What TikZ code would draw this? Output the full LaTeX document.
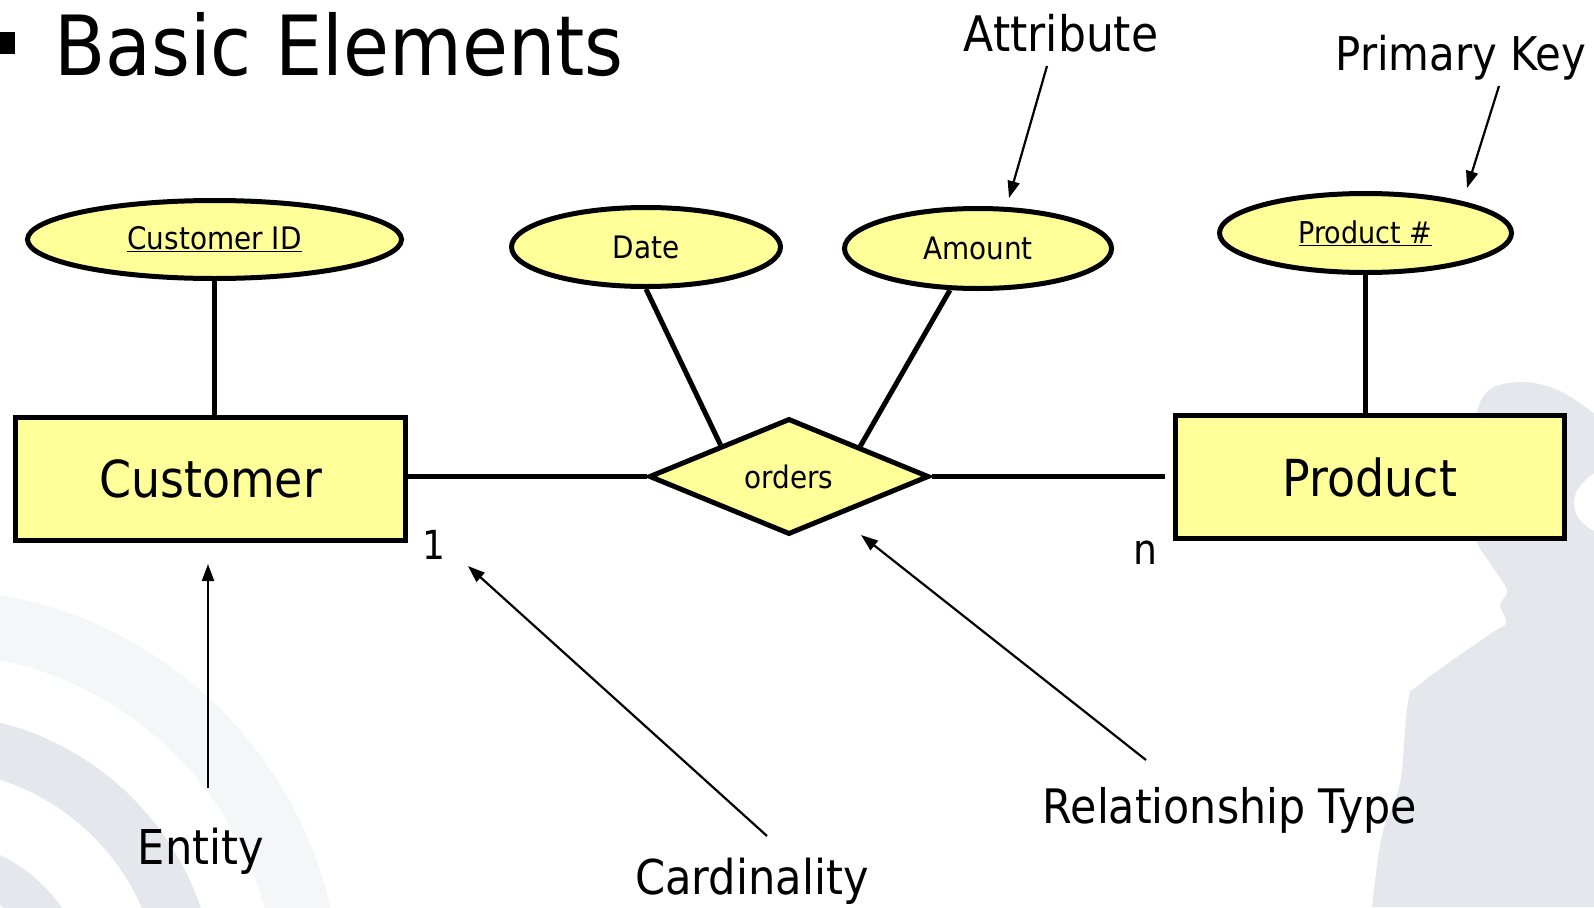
\documentclass[tikz,border=0pt]{standalone}
\usepackage{fontspec}
\setmainfont{DejaVu Sans}[FakeStretch=0.9]
\usetikzlibrary{shapes.geometric,arrows.meta,calc}
\definecolor{erfill}{RGB}{255,255,153}
\definecolor{bgA}{RGB}{228,232,236}
\definecolor{bgB}{RGB}{244,246,248}
\newcommand\fsz[1]{\fontsize{#1bp}{#1bp}\selectfont}
\begin{document}
\begin{tikzpicture}[x=1bp,y=-1bp,
  entitybox/.style={draw,line width=5bp,fill=erfill,rectangle,inner sep=0pt},
  attrell/.style={draw,line width=5bp,fill=erfill,ellipse,inner sep=0pt},
  relbox/.style={draw,line width=5bp,fill=erfill,diamond,inner sep=0pt,aspect=2.4},
  conn/.style={line width=5bp},
  note/.style={inner sep=0pt},
  pointer/.style={line width=2.2bp,-{Triangle[length=17bp,width=12bp]}},
]
\useasboundingbox (0,0) rectangle (1594,907);
% background decoration
\begin{scope}
\clip (0,0) rectangle (1594,907);
\fill[bgB,even odd rule] (-70,1000) circle[radius=411bp] (-70,1000) circle[radius=347bp];
\fill[bgA,even odd rule] (-70,1000) circle[radius=286bp] (-70,1000) circle[radius=231bp];
\fill[bgA,even odd rule] (-70,1000) circle[radius=161bp] (-70,1000) circle[radius=118bp];
\fill[bgA] plot[smooth,tension=0.6] coordinates {(1600,418) (1560,391) (1520,382) (1485,394) (1473,440) (1474,530) (1490,563) (1507,590) (1500,605) (1506,623) (1490,634) (1420,684) (1408,702) (1400,783) (1382,835) (1372,907)} -- (1600,907) -- cycle;
\fill[white] plot[smooth cycle,tension=0.7] coordinates {(1600,476) (1582,484) (1574,503) (1582,522) (1600,527)};
\end{scope}
% title
\node[fill,minimum size=22bp,inner sep=0pt] (bullet) at (4,43) {};
\node[note,anchor=base west,font=\fsz{83}] (title) at (54,75) {Basic Elements};
% ER diagram
\node[entitybox,minimum width=390bp,minimum height=123bp,font=\fsz{51}] (cust) at (210.5,479) {Customer};
\node[entitybox,minimum width=389bp,minimum height=123bp,font=\fsz{51}] (prod) at (1370,477) {Product};
\node[attrell,minimum width=374bp,minimum height=78bp,font=\fsz{31}] (cid) at (214.5,239.5) {\underline{Customer ID}};
\node[attrell,minimum width=269bp,minimum height=79bp,font=\fsz{31}] (date) at (646,247) {Date};
\node[attrell,minimum width=267bp,minimum height=80bp,font=\fsz{31}] (amount) at (978,248.5) {Amount};
\node[attrell,minimum width=292bp,minimum height=79bp,font=\fsz{30}] (pk) at (1365.5,233) {\underline{Product \#}};
\node[relbox,minimum width=280bp,minimum height=116bp,font=\fsz{31}] (rel) at (789,476.5) {orders};
\draw[conn] (cid.south) -- (cid.south |- cust.north);
\draw[conn] (pk.south) -- (pk.south |- prod.north);
\draw[conn] (cust.east |- rel.west) -- (rel.west);
\draw[conn,shorten >=8bp] (rel.east) -- (rel.east -| prod.west);
\draw[conn] (date.south) -- ($(rel.west)!0.52!(rel.north)$);
\draw[conn] (amount.236) -- ($(rel.north)!0.5!(rel.east)$);
\node[note,anchor=base,font=\fsz{40}] (one) at (434,559) {1};
\node[note,anchor=base,font=\fsz{42}] (many) at (1145,564) {n};
% annotations
\node[note,anchor=base,font=\fsz{49}] (lblattr) at (1061,51) {Attribute};
\node[note,anchor=base,font=\fsz{46.5}] (lblpk) at (1461,70) {Primary Key};
\node[note,anchor=base,font=\fsz{48}] (lblent) at (201,864) {Entity};
\node[note,anchor=base,font=\fsz{48}] (lblcard) at (752,894) {Cardinality};
\node[note,anchor=base,font=\fsz{47.5}] (lblrel) at (1230,823) {Relationship Type};
\coordinate (attrS) at (1047,66);  \coordinate (attrT) at (1009,198);
\coordinate (pkS) at (1499,86);    \coordinate (pkT) at (1467,188);
\coordinate (entS) at (208,788);   \coordinate (entT) at (208,564);
\coordinate (cardS) at (767,836);  \coordinate (cardT) at (468,566);
\coordinate (relS) at (1146,760);  \coordinate (relT) at (861,535);
\draw[pointer] (attrS) -- (attrT);
\draw[pointer] (pkS) -- (pkT);
\draw[pointer] (entS) -- (entT);
\draw[pointer] (cardS) -- (cardT);
\draw[pointer] (relS) -- (relT);
\end{tikzpicture}
\end{document}
